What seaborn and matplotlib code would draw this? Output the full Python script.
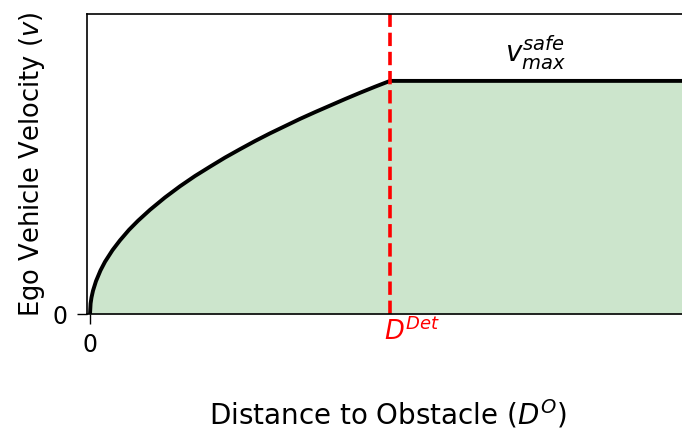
import matplotlib
matplotlib.use("Agg")
import matplotlib.pyplot as plt
import matplotlib.transforms as mtransforms
import numpy as np
import pandas as pd
import seaborn as sns

# Safe-speed envelope: rising branch up to the detection distance, then capped
distance_rise = [0.0, 0.002, 0.005, 0.01, 0.02, 0.035, 0.05, 0.075, 0.1, 0.13,
                 0.16, 0.2, 0.25, 0.3, 0.35, 0.4, 0.45, 0.5, 0.55, 0.6, 0.65,
                 0.7, 0.75, 0.8, 0.85, 0.9, 0.95, 1.0]
velocity_rise = [0.0, 0.045, 0.071, 0.1, 0.141, 0.187, 0.224, 0.274, 0.316,
                 0.361, 0.4, 0.447, 0.5, 0.548, 0.592, 0.632, 0.671, 0.707,
                 0.742, 0.775, 0.806, 0.837, 0.866, 0.894, 0.922, 0.949,
                 0.975, 1.0]
distance_cap = [1.0, 2.0]
velocity_cap = [1.0, 1.0]

d_detect = 1.0
v_max = 1.0
x_limits = (-0.01, 2.0)
y_limits = (0.0, 1.287)

x_tick_values = [0.0]
x_tick_labels = ["0"]
y_tick_values = [0.0]
y_tick_labels = ["0"]

sns.set_style("white")
plt.rcParams["font.family"] = ["DejaVu Sans"]
plt.rcParams["mathtext.fontset"] = "dejavusans"
for key in ("text.color", "axes.labelcolor", "xtick.color", "ytick.color",
            "axes.edgecolor"):
    plt.rcParams[key] = "black"

envelope = pd.DataFrame({
    "distance": distance_rise + distance_cap[1:],
    "velocity": velocity_rise + velocity_cap[1:],
})

fig = plt.figure(figsize=(6.82, 4.32), dpi=100)
ax = fig.add_axes([87 / 682, 118 / 432, 603 / 682, 300 / 432])

ax.fill_between(envelope["distance"], 0, envelope["velocity"],
                color="green", alpha=0.2, linewidth=0)
sns.lineplot(data=envelope, x="distance", y="velocity", ax=ax,
             color="black", linewidth=2.8, sort=False)
ax.axvline(d_detect, color="red", linestyle="--", linewidth=2.6)

ax.set_xlim(*x_limits)
ax.set_ylim(*y_limits)
ax.set_xticks(x_tick_values)
ax.set_xticklabels(x_tick_labels)
ax.set_yticks(y_tick_values)
ax.set_yticklabels(y_tick_labels)
ax.tick_params(axis="both", which="major", labelsize=17, length=7,
               width=1.0, pad=7, direction="out", bottom=True, left=True,
               colors="black")

for spine in ax.spines.values():
    spine.set_color("black")
    spine.set_linewidth(1.2)

ax.set_xlabel(r"Distance to Obstacle ($D^O$)", fontsize=20, labelpad=29)
ax.set_ylabel(r"Ego Vehicle Velocity ($v$)", fontsize=18.5, labelpad=4)

trans = mtransforms.blended_transform_factory(ax.transData, ax.transAxes)
ax.text(d_detect - 0.02, -0.012, r"$D^{Det}$", color="red", fontsize=18.5,
        ha="left", va="top", transform=trans)
ax.text(1.485, v_max + 0.12, r"$v_{max}^{safe}$", color="black", fontsize=20,
        ha="center", va="center")

fig.savefig("out.png", dpi=100)
